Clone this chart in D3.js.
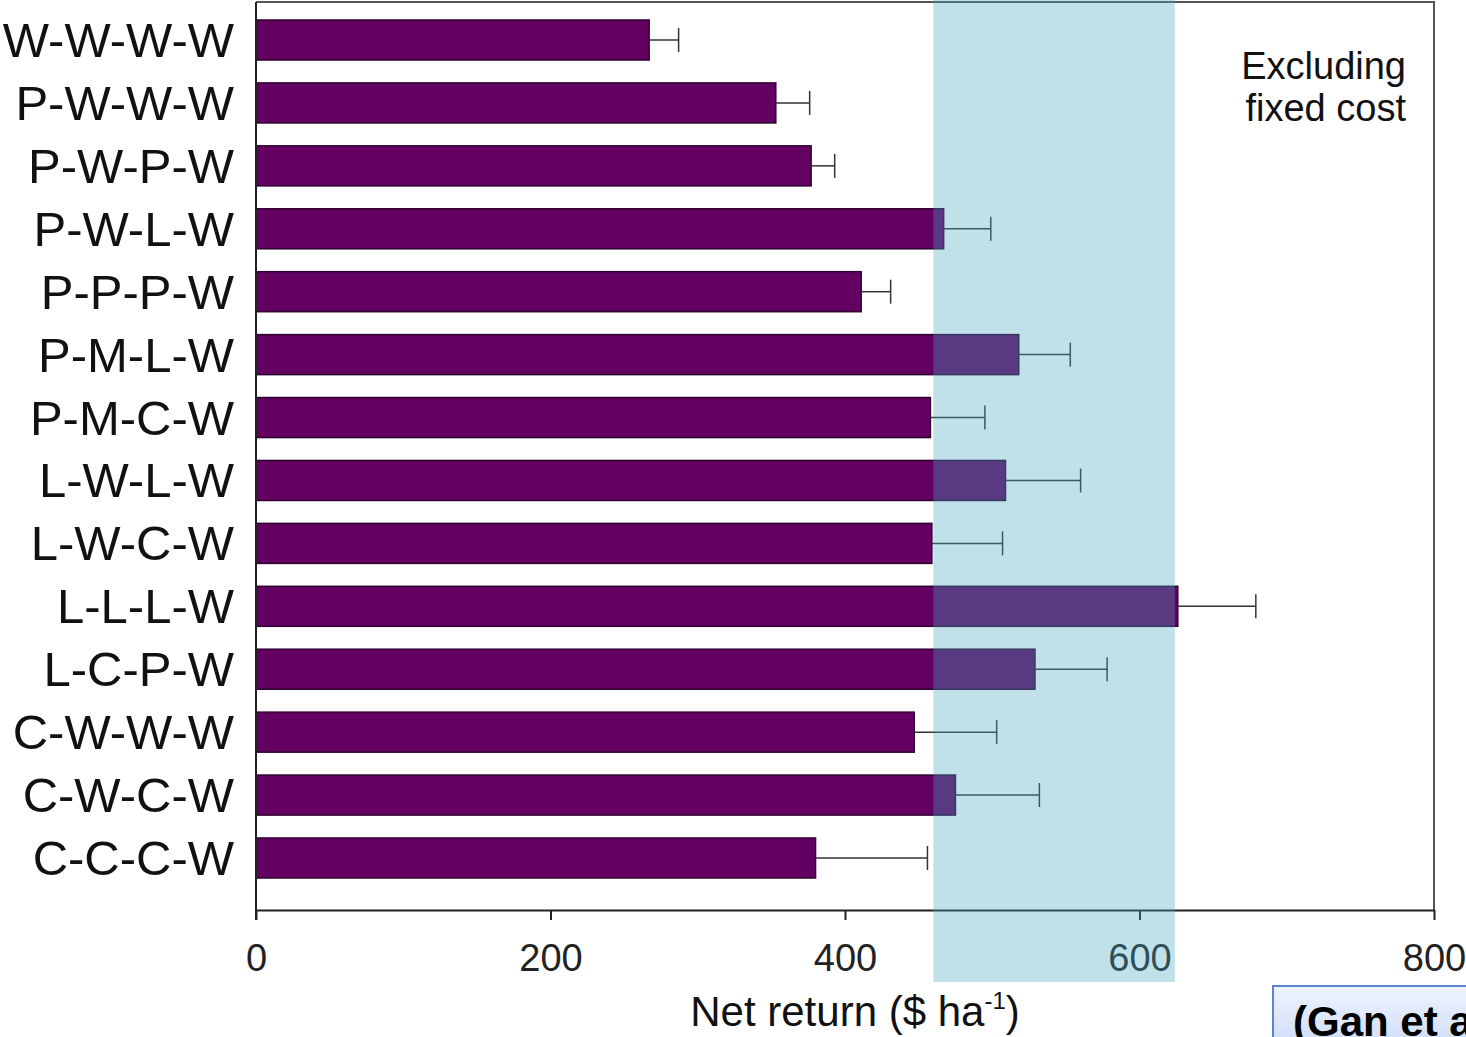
<!DOCTYPE html>
<html>
<head>
  <meta charset="UTF-8">
  <title>Net return by rotation</title>
  <script src="https://d3js.org/d3.v7.min.js"></script>
  <style>
    body { margin: 0; background: #fff; }
    svg { display: block; font-family: "Liberation Sans", Arial, sans-serif; }
  </style>
</head>
<body>
  <svg width="1466" height="1037"></svg>

  <script>
    // Rotations, top to bottom
    const rotations = ["W-W-W-W", "P-W-W-W", "P-W-P-W", "P-W-L-W", "P-P-P-W", "P-M-L-W", "P-M-C-W",
                       "L-W-L-W", "L-W-C-W", "L-L-L-W", "L-C-P-W", "C-W-W-W", "C-W-C-W", "C-C-C-W"];
    // Net return ($/ha), excluding fixed cost
    const netReturn = [267, 353, 377, 467, 411, 518, 458, 509, 459, 626, 529, 447, 475, 380];
    // Upper end of error bar
    const errUpper = [287, 376, 393, 499, 431, 553, 495, 560, 507, 679, 578, 503, 532, 456];
    // Shaded range
    const bandRange = [460, 624];
    const xTicks = [0, 200, 400, 600, 800];

    const svg = d3.select("svg");
    const plotL = 256, plotR = 1434, plotT = 2, plotB = 910;

    const x = d3.scaleLinear().domain([0, 800]).range([plotL, plotR]);
    const y = d3.scaleBand().domain(rotations).range([20, 878]).paddingInner(0.364);

    // Frame (top and right)
    svg.append("path")
      .attr("d", `M${plotL},${plotT}H${plotR}V${plotB}`)
      .attr("fill", "none")
      .attr("stroke", "#555")
      .attr("stroke-width", 2);

    // Bars
    svg.append("g").selectAll("rect")
      .data(rotations)
      .join("rect")
      .attr("x", x(0))
      .attr("y", d => y(d))
      .attr("width", (d, i) => x(netReturn[i]) - x(0))
      .attr("height", y.bandwidth())
      .attr("fill", "#630061")
      .attr("stroke", "#2e0030")
      .attr("stroke-width", 1.5);

    // Error bars
    const err = svg.append("g").attr("stroke", "#333").attr("stroke-width", 1.5);
    rotations.forEach((r, i) => {
      const cy = y(r) + y.bandwidth() / 2;
      err.append("line")
        .attr("x1", x(netReturn[i])).attr("x2", x(errUpper[i]))
        .attr("y1", cy).attr("y2", cy);
      err.append("line")
        .attr("x1", x(errUpper[i])).attr("x2", x(errUpper[i]))
        .attr("y1", cy - 12).attr("y2", cy + 12);
    });

    // Category labels
    svg.append("g").selectAll("text")
      .data(rotations)
      .join("text")
      .attr("x", 234)
      .attr("y", d => y(d) + y.bandwidth() / 2 + 17)
      .attr("text-anchor", "end")
      .attr("font-size", 49)
      .attr("fill", "#111")
      .text(d => d);

    // Left axis line
    svg.append("line")
      .attr("x1", plotL).attr("x2", plotL)
      .attr("y1", plotT).attr("y2", plotB + 10)
      .attr("stroke", "#222").attr("stroke-width", 2);

    // X axis
    const xAxis = svg.append("g")
      .attr("transform", `translate(0, ${plotB})`)
      .call(d3.axisBottom(x).tickValues(xTicks).tickSize(10).tickPadding(24).tickSizeOuter(0));
    xAxis.select(".domain").attr("stroke", "#222").attr("stroke-width", 2);
    xAxis.selectAll(".tick line").attr("stroke", "#222").attr("stroke-width", 2);
    xAxis.selectAll(".tick text")
      .attr("font-size", 38)
      .attr("fill", "#222")
      .attr("font-family", "Liberation Sans, Arial, sans-serif");

    // Shaded band on top (semi-transparent)
    svg.append("rect")
      .attr("x", x(bandRange[0]))
      .attr("y", 0)
      .attr("width", x(bandRange[1]) - x(bandRange[0]))
      .attr("height", 982)
      .attr("fill", "rgb(70,167,193)")
      .attr("fill-opacity", 0.34);

    // Axis title
    const title = svg.append("text")
      .attr("x", 855)
      .attr("y", 1026)
      .attr("text-anchor", "middle")
      .attr("font-size", 42)
      .attr("fill", "#111");
    title.append("tspan").text("Net return ($ ha");
    title.append("tspan").attr("dy", -17).attr("font-size", 24).text("-1");
    title.append("tspan").attr("dy", 17).text(")");

    // Annotation
    const note = svg.append("text")
      .attr("text-anchor", "end")
      .attr("font-size", 38)
      .attr("fill", "#111");
    note.append("tspan").attr("x", 1406).attr("y", 79).text("Excluding");
    note.append("tspan").attr("x", 1406).attr("y", 121).text("fixed cost");

    // Citation box (clipped at page edge, as in the source)
    const defs = svg.append("defs");
    const grad = defs.append("linearGradient").attr("id", "citeFill")
      .attr("x1", 0).attr("y1", 0).attr("x2", 0).attr("y2", 1);
    grad.append("stop").attr("offset", "0%").attr("stop-color", "#eef3fd");
    grad.append("stop").attr("offset", "100%").attr("stop-color", "#bfd2f6");
    svg.append("rect")
      .attr("x", 1273).attr("y", 986)
      .attr("width", 260).attr("height", 90)
      .attr("fill", "url(#citeFill)")
      .attr("stroke", "#5b84d6")
      .attr("stroke-width", 2);
    svg.append("text")
      .attr("x", 1293).attr("y", 1036)
      .attr("font-size", 42)
      .attr("font-weight", "bold")
      .attr("fill", "#000")
      .text("(Gan et al.");
  </script>
</body>
</html>
